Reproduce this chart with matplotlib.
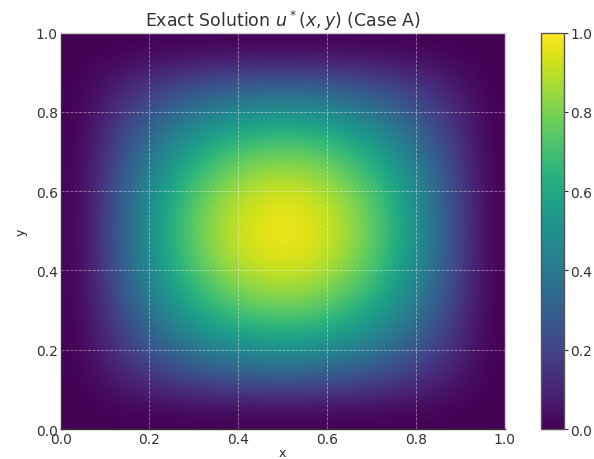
import numpy as np
import matplotlib
matplotlib.use('Agg')
import matplotlib.pyplot as plt

# profile (same in x and y)
grid_pts = [0.0, 0.1, 0.2, 0.3, 0.4, 0.5, 0.6, 0.7, 0.8, 0.9, 1.0]
profile = [0.0, 0.31, 0.59, 0.81, 0.95, 1.0, 0.95, 0.81, 0.59, 0.31, 0.0]
ticks = [0.0, 0.2, 0.4, 0.6, 0.8, 1.0]

plt.style.use('seaborn-v0_8-whitegrid')
plt.rcParams['font.family'] = ['DejaVu Sans']
plt.rcParams['mathtext.fontset'] = 'dejavusans'
fig = plt.figure(figsize=(5.94, 4.6), dpi=100)
ax = fig.add_axes([0.102, 0.065, 0.748, 0.862])
cax = fig.add_axes([0.911, 0.065, 0.039, 0.862])

Z = np.outer(profile, profile)
im = ax.imshow(Z, extent=[0, 1, 0, 1], origin='lower', cmap='viridis',
               interpolation='bicubic', aspect='auto', vmin=0, vmax=1)
ax.set_xticks(ticks)
ax.set_yticks(ticks)
ax.grid(True, color='white', linestyle='--', linewidth=0.6, alpha=0.45)
for s in ['left', 'bottom']:
    ax.spines[s].set_visible(True)
    ax.spines[s].set_color('#333333')
ax.tick_params(labelsize=10, colors='#333333', length=0, pad=2)
ax.set_xlabel('x', fontsize=9, labelpad=0)
ax.set_ylabel('y', fontsize=9, labelpad=6)
ax.set_title('Exact Solution $u^*(x, y)$ (Case A)', fontsize=12.5, color='#333333', pad=5)

cb = fig.colorbar(im, cax=cax, ticks=ticks)
cb.outline.set_edgecolor('#555555')
cb.ax.tick_params(labelsize=10, colors='#333333', length=3, width=0.8, pad=1.5)
cb.ax.grid(False)

fig.savefig('out.png', dpi=100)
